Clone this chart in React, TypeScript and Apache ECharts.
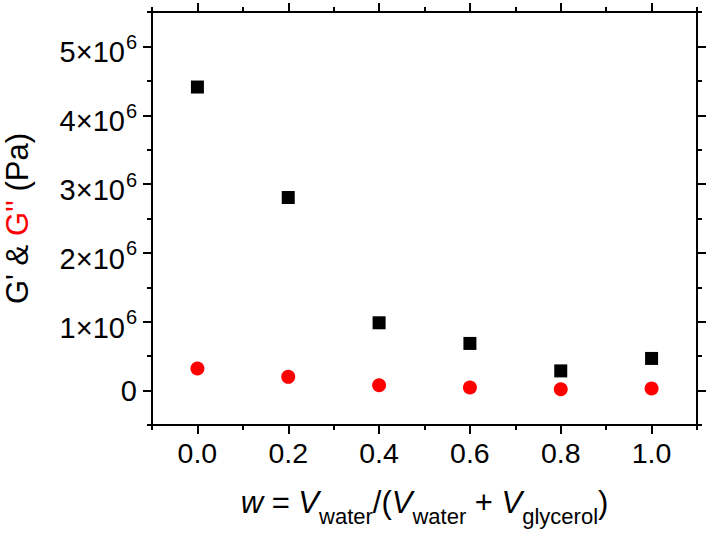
import React, { useEffect, useRef } from 'react';
import * as echarts from 'echarts';

const wValues = [0, 0.2, 0.4, 0.6, 0.8, 1.0];
const gPrime = [4.41e6, 2.805e6, 0.985e6, 0.685e6, 0.286e6, 0.467e6];
const gDoublePrime = [0.32e6, 0.2e6, 0.077e6, 0.044e6, 0.019e6, 0.03e6];
const xMajorTicks = [0, 0.2, 0.4, 0.6, 0.8, 1.0];
const xMinorTicks = [-0.1, 0.1, 0.3, 0.5, 0.7, 0.9, 1.1];
const yMajorTicks = [0, 1e6, 2e6, 3e6, 4e6, 5e6];
const yMinorTicks = [-0.5e6, 0.5e6, 1.5e6, 2.5e6, 3.5e6, 4.5e6, 5.5e6];

const FONT = "'Liberation Sans', Arial, Helvetica, sans-serif";
const X_MIN = -0.1;
const X_MAX = 1.1;
const Y_MIN = -0.5e6;
const Y_MAX = 5.5e6;

export default function App() {
  const ref = useRef<HTMLDivElement>(null);

  useEffect(() => {
    if (!ref.current) return;
    const chart = echarts.init(ref.current, undefined, { renderer: 'svg' });
    const lineStyle = { color: '#000', width: 2 };

    const xAxisBase = (position: string, ticks: number[], len: number, showLine: boolean, labels: boolean, name?: any) => ({
      type: 'value',
      position,
      min: X_MIN,
      max: X_MAX,
      axisLine: { show: showLine, onZero: false, lineStyle },
      axisTick: { show: true, inside: false, length: len, customValues: ticks, lineStyle },
      axisLabel: labels
        ? {
            show: true,
            customValues: ticks,
            margin: 13,
            fontSize: 28.5,
            fontFamily: FONT,
            color: '#000',
            formatter: (v: number) => v.toFixed(1),
          }
        : { show: false },
      splitLine: { show: false },
      ...(name || {}),
    });

    const yAxisBase = (position: string, ticks: number[], len: number, showLine: boolean, labels: boolean, name?: any) => ({
      type: 'value',
      position,
      min: Y_MIN,
      max: Y_MAX,
      axisLine: { show: showLine, onZero: false, lineStyle },
      axisTick: { show: true, inside: false, length: len, customValues: ticks, lineStyle },
      axisLabel: labels
        ? {
            show: true,
            customValues: ticks,
            margin: 15,
            fontFamily: FONT,
            color: '#000',
            formatter: (v: number) => (v === 0 ? '{z|0}' : `{n|${Math.round(v / 1e6)}×10}{s|6}`),
            rich: {
              z: { fontSize: 29, fontFamily: FONT, color: '#000' },
              n: { fontSize: 29, lineHeight: 29, fontFamily: FONT, color: '#000', verticalAlign: 'top', padding: [6, 0, 6, 0] },
              s: { fontSize: 20, lineHeight: 20, fontFamily: FONT, color: '#000', verticalAlign: 'top', padding: [0, 0, 0, 1] },
            },
          }
        : { show: false },
      splitLine: { show: false },
      ...(name || {}),
    });

    const xName = {
      name: '{i|w}{n| = }{i|V}{s|water}{n|/(}{i|V}{s|water}{n| + }{i|V}{s|glycerol}{n|)}',
      nameLocation: 'middle',
      nameGap: 62,
      nameTextStyle: {
        rich: {
          i: { fontSize: 31, lineHeight: 32, fontStyle: 'italic', fontFamily: FONT, color: '#000', verticalAlign: 'top' },
          n: { fontSize: 31, lineHeight: 32, fontFamily: FONT, color: '#000', verticalAlign: 'top' },
          s: { fontSize: 22, lineHeight: 22, fontFamily: FONT, color: '#000', verticalAlign: 'top', padding: [18, 0, 0, 0] },
        },
      },
    };

    const yName = {
      name: "{b|G' & }{r|G''}{b| (Pa)}",
      nameLocation: 'middle',
      nameGap: 120,
      nameTextStyle: {
        rich: {
          b: { fontSize: 31, lineHeight: 30, fontFamily: FONT, color: '#000' },
          r: { fontSize: 31, lineHeight: 30, fontFamily: FONT, color: '#ff0000' },
        },
      },
    };

    chart.setOption({
      animation: false,
      backgroundColor: '#fff',
      grid: { left: 152, top: 12, right: 12, bottom: 110, containLabel: false, outerBoundsMode: 'none' },
      xAxis: [
        xAxisBase('bottom', xMajorTicks, 9, true, true, xName),
        xAxisBase('bottom', xMinorTicks, 5, false, false),
        xAxisBase('top', xMajorTicks, 9, true, false),
        xAxisBase('top', xMinorTicks, 5, false, false),
      ],
      yAxis: [
        yAxisBase('left', yMajorTicks, 9, true, true, yName),
        yAxisBase('left', yMinorTicks, 5, false, false),
        yAxisBase('right', yMajorTicks, 9, true, false),
        yAxisBase('right', yMinorTicks, 5, false, false),
      ],
      series: [
        {
          name: "G'",
          type: 'scatter',
          xAxisIndex: 0,
          yAxisIndex: 0,
          symbol: 'rect',
          symbolSize: 13,
          itemStyle: { color: '#000', opacity: 1 },
          data: wValues.map((w, i) => [w, gPrime[i]]),
          z: 3,
        },
        {
          name: "G''",
          type: 'scatter',
          xAxisIndex: 0,
          yAxisIndex: 0,
          symbol: 'circle',
          symbolSize: 14,
          itemStyle: { color: '#ff0000', opacity: 1 },
          data: wValues.map((w, i) => [w, gDoublePrime[i]]),
          z: 3,
        },
      ],
    });

    return () => chart.dispose();
  }, []);

  return (
    <div
      ref={ref}
      style={{ position: 'fixed', left: 0, top: 0, width: 709, height: 535, background: '#fff' }}
    />
  );
}
